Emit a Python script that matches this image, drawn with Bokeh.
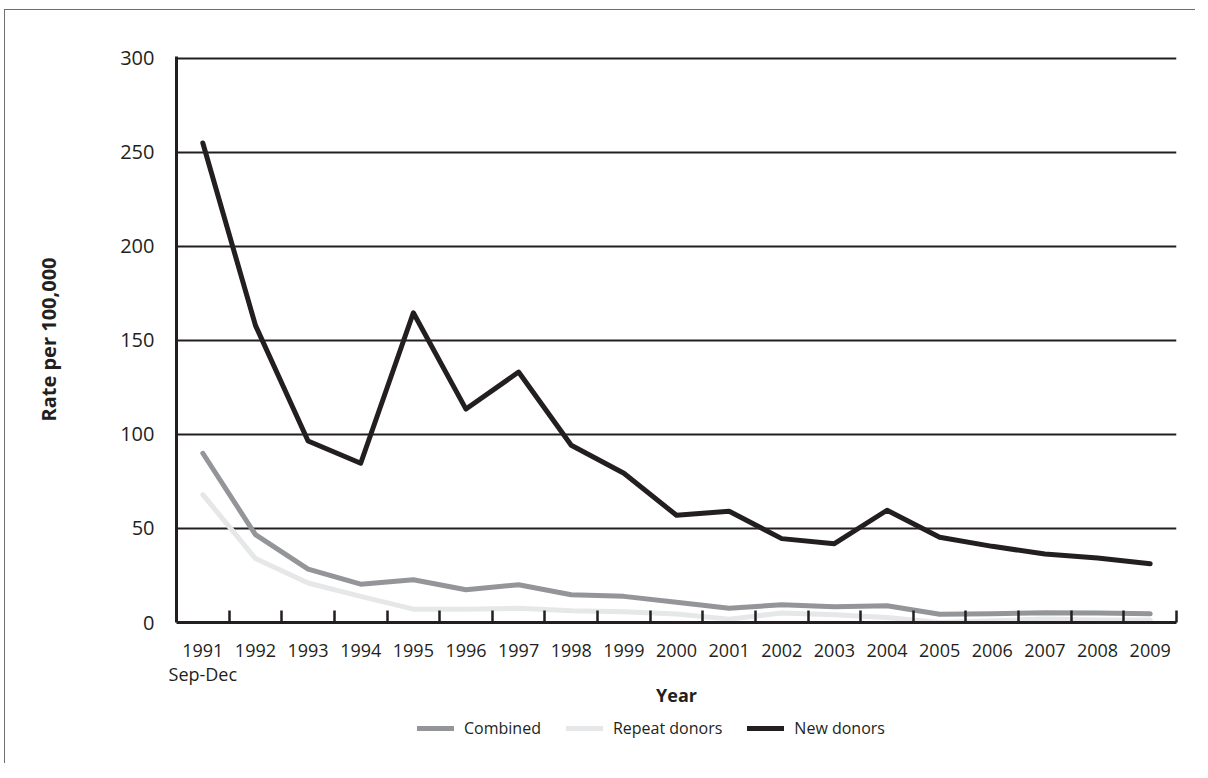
from bokeh.plotting import figure
from bokeh.layouts import column
from bokeh.models import (Range1d, FixedTicker, Legend, LegendItem, ColumnDataSource)
from bokeh.embed import file_html
from bokeh.resources import INLINE

years = ["1991\nSep-Dec", "1992", "1993", "1994", "1995", "1996", "1997", "1998", "1999",
         "2000", "2001", "2002", "2003", "2004", "2005", "2006", "2007", "2008", "2009"]
combined = [90, 46.7, 28.4, 20.4, 22.7, 17.4, 20.1, 14.8, 13.9, 10.8,
            7.6, 9.4, 8.4, 8.9, 4.4, 4.6, 5.2, 5.0, 4.6]
repeat_donors = [68, 34, 21, 13.9, 7.1, 7.0, 7.6, 6.2, 5.7, 4.5,
                 1.8, 5.0, 4.1, 2.7, 0.0, 0.9, 1.8, 1.3, 1.3]
new_donors = [255, 158, 96.5, 84.7, 164.7, 113.5, 133.2, 94.3, 79.4, 57.0,
              59.2, 44.6, 41.9, 59.7, 45.3, 40.5, 36.4, 34.3, 31.3]
y_ticks = [0, 50, 100, 150, 200, 250, 300]
series_names = ["Combined", "Repeat donors", "New donors"]
series_cols = ["c", "r", "n"]
series_colors = ["#939598", "#e6e7e8", "#231f20"]

FONT = "Open Sans"
TXT = "#231f20"
EDGE = "1.5px solid #6d6e71"

xs = list(range(len(years)))
src = ColumnDataSource(dict(x=xs, c=combined, r=repeat_donors, n=new_donors))

p = figure(frame_width=999, frame_height=565, output_backend="svg", toolbar_location=None,
           x_range=Range1d(-0.5, len(years) - 0.5), y_range=Range1d(0, 301),
           min_border_left=171, min_border_right=20, min_border_top=46, min_border_bottom=92)
p.outline_line_color = None
p.background_fill_color = "white"
p.border_fill_color = "white"
p.margin = (9, 0, 0, 4)
p.styles = {"border-left": EDGE, "border-top": EDGE}

# grid
p.xgrid.grid_line_color = None
p.ygrid.ticker = FixedTicker(ticks=y_ticks)
p.ygrid.grid_line_color = TXT
p.ygrid.grid_line_width = 2

# y axis
p.yaxis.ticker = FixedTicker(ticks=y_ticks)
p.yaxis.major_tick_line_color = None
p.yaxis.major_tick_out = 0
p.yaxis.major_tick_in = 0
p.yaxis.minor_tick_line_color = None
p.yaxis.axis_line_color = TXT
p.yaxis.axis_line_width = 3
p.yaxis.major_label_standoff = 22
p.yaxis.major_label_text_font = FONT
p.yaxis.major_label_text_font_size = "20px"
p.yaxis.major_label_text_color = TXT
p.yaxis.axis_label = "Rate per 100,000"
p.yaxis.axis_label_text_font = FONT
p.yaxis.axis_label_text_font_style = "bold"
p.yaxis.axis_label_text_font_size = "20px"
p.yaxis.axis_label_text_color = TXT
p.yaxis.axis_label_standoff = 55

# x axis
p.xaxis.ticker = FixedTicker(ticks=xs, minor_ticks=[i + 0.5 for i in range(len(years))])
p.xaxis.major_label_overrides = {i: lab for i, lab in enumerate(years)}
p.xaxis.major_tick_line_color = None
p.xaxis.major_tick_out = 0
p.xaxis.major_tick_in = 0
p.xaxis.minor_tick_line_color = TXT
p.xaxis.minor_tick_line_width = 2.5
p.xaxis.minor_tick_in = 12
p.xaxis.minor_tick_out = 0
p.xaxis.axis_line_color = TXT
p.xaxis.axis_line_width = 3
p.xaxis.major_label_standoff = 15
p.xaxis.major_label_text_font = FONT
p.xaxis.major_label_text_font_size = "18px"
p.xaxis.major_label_text_line_height = 1.0
p.xaxis.major_label_text_color = TXT
p.xaxis.axis_label = "Year"
p.xaxis.axis_label_text_font = FONT
p.xaxis.axis_label_text_font_style = "bold"
p.xaxis.axis_label_text_font_size = "18px"
p.xaxis.axis_label_text_color = TXT
p.xaxis.axis_label_standoff = -6

for col, color in [("r", series_colors[1]), ("c", series_colors[0]), ("n", series_colors[2])]:
    p.line("x", col, source=src, line_color=color, line_width=5, line_join="round", line_cap="round")

# legend strip below the chart (its lines use the same data, kept out of its view)
leg = figure(width=1195, height=50, output_backend="svg", toolbar_location=None,
             x_range=Range1d(0, 1), y_range=Range1d(-2, -1),
             x_axis_type=None, y_axis_type=None,
             min_border_left=0, min_border_right=0, min_border_top=0, min_border_bottom=0)
leg.outline_line_color = None
leg.background_fill_color = "white"
leg.border_fill_color = "white"
leg.margin = (0, 0, 0, 4)
leg.styles = {"border-left": EDGE}

items = []
for name, col, color in zip(series_names, series_cols, series_colors):
    r = leg.line("x", col, source=src, line_color=color, line_width=5, line_cap="round")
    items.append(LegendItem(label=name, renderers=[r]))

legend = Legend(items=items, orientation="horizontal", location=(241, 24),
                glyph_width=37, label_standoff=10, spacing=25,
                label_text_font=FONT, label_text_font_size="16px", label_text_color=TXT,
                border_line_color=None, background_fill_alpha=0, margin=0, padding=0)
leg.add_layout(legend, "center")

layout = column(p, leg, spacing=0)

open("out.html", "w").write(file_html(layout, INLINE))
